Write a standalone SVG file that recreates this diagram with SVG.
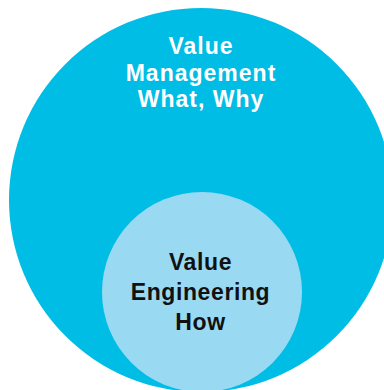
<svg xmlns="http://www.w3.org/2000/svg" width="384" height="390" viewBox="0 0 384 390">
<style>
.t{font-family:"Liberation Sans",Arial,sans-serif;font-weight:bold;font-size:23px;text-anchor:middle}
.w{fill:#ffffff;letter-spacing:1px}
.k{fill:#111111;letter-spacing:0.6px}
</style>
<rect width="384" height="390" fill="#ffffff"/>
<g id="value-management">
<circle cx="201" cy="200" r="192" fill="#00bde6"/>
<text class="t w" x="201" y="54">Value</text>
<text class="t w" x="201" y="81">Management</text>
<text class="t w" x="201" y="107">What, Why</text>
</g>
<g id="value-engineering">
<circle cx="202" cy="292" r="100" fill="#9ad9f2"/>
<text class="t k" x="200.5" y="270">Value</text>
<text class="t k" x="200.5" y="300">Engineering</text>
<text class="t k" x="200.5" y="330">How</text>
</g>
<g id="connectors"/>
</svg>
